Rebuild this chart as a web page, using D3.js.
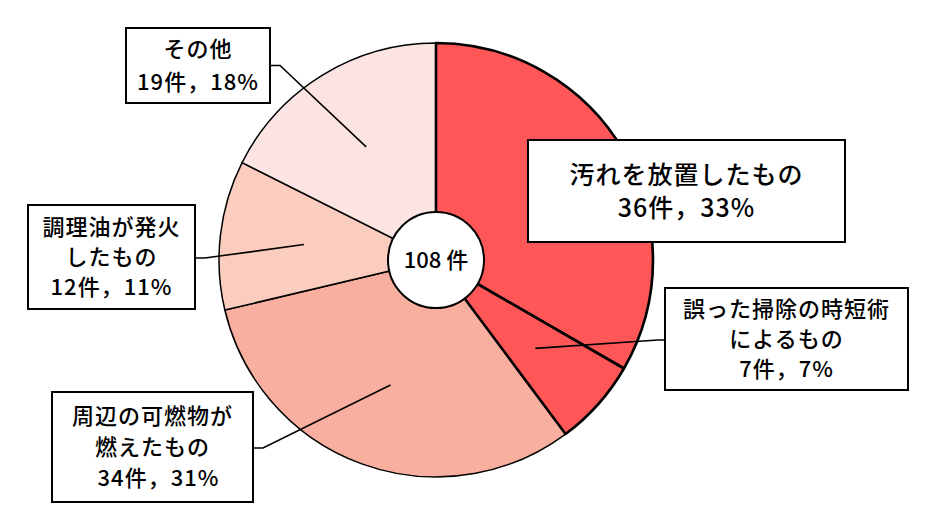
<!DOCTYPE html>
<html><head><meta charset="utf-8">
<script src="https://cdn.jsdelivr.net/npm/d3@7"></script>
<style>
html,body{margin:0;padding:0;background:#fff;}
svg{display:block;}
text{font-family:"Noto Sans CJK JP","Noto Sans CJK SC",sans-serif;fill:#000;font-weight:500;}
</style></head>
<body>
<svg id="chart" width="934" height="523"></svg>
<script>
// data
const categories = ["汚れを放置したもの", "誤った掃除の時短術によるもの", "周辺の可燃物が燃えたもの", "調理油が発火したもの", "その他"];
const counts = [36, 7, 34, 12, 19];
const percents = [33, 7, 31, 11, 18];
const labelLines = [
  ["汚れを放置したもの"],
  ["誤った掃除の時短術", "によるもの"],
  ["周辺の可燃物が", "燃えたもの"],
  ["調理油が発火", "したもの"],
  ["その他"]
];
const colors = ["#FF5757", "#FF5757", "#F9AFA0", "#FBCDBF", "#FCE4E2"];
const totalLabel = "108 件";

// layout
const W = 934, H = 523;
const cx = 436, cy = 260, R = 217, holeR = 48;
const boxes = [
  {x:528, y:140, w:317, h:102, fs:25, lh:33, leader:false},
  {x:665, y:288, w:243, h:102, fs:22, lh:30, leader:true, side:"left"},
  {x:52,  y:392, w:201, h:110, fs:22, lh:31, leader:true, side:"right", shiftLast:6},
  {x:28,  y:205, w:167, h:104, fs:22, lh:30, leader:true, side:"right"},
  {x:126, y:28,  w:144, h:75,  fs:22, lh:33, leader:true, side:"right"}
];

const svg = d3.select("#chart");
const g = svg.append("g").attr("transform", `translate(${cx},${cy})`);

const pie = d3.pie().sort(null).value(d => d)(counts);
const arc = d3.arc().innerRadius(0).outerRadius(R);
const leaderArc = d3.arc().innerRadius(133).outerRadius(133);

// draw light slices first, red slices last so thick borders are on top
const order = [2, 3, 4, 0, 1];
order.forEach(i => {
  g.append("path")
    .attr("d", arc(pie[i]))
    .attr("fill", colors[i])
    .attr("stroke", "#000")
    .attr("stroke-width", i < 2 ? 2.6 : 1.5)
    .attr("stroke-linejoin", "round");
});

// leader lines
pie.forEach((p, i) => {
  const b = boxes[i];
  if (!b.leader) return;
  const [lx, ly] = leaderArc.centroid(p);
  const ex = cx + lx, ey = cy + ly;
  let sx, sy, kx;
  sy = b.y + b.h / 2 + (i === 4 ? 0 : 1);
  if (b.side === "left") { sx = b.x; kx = sx - 7; }
  else { sx = b.x + b.w; kx = sx + 10; }
  svg.append("path")
    .attr("d", d3.line()([[sx, sy], [kx, sy], [ex, ey]]))
    .attr("fill", "none").attr("stroke", "#000").attr("stroke-width", 1.6);
});

// center circle
g.append("circle").attr("r", holeR).attr("fill", "#fff").attr("stroke", "#000").attr("stroke-width", 2);
g.append("text").attr("text-anchor", "middle").attr("dy", "0.36em")
  .style("font-size", "22px").text(totalLabel);

// label boxes
boxes.forEach((b, i) => {
  svg.append("rect").attr("x", b.x).attr("y", b.y).attr("width", b.w).attr("height", b.h)
    .attr("fill", "#fff").attr("stroke", "#000").attr("stroke-width", 2);
  const lines = labelLines[i].concat([`${counts[i]}件，${percents[i]}%`]);
  const n = lines.length;
  const midY = b.y + b.h / 2;
  lines.forEach((t, k) => {
    const yy = midY + (k - (n - 1) / 2) * b.lh;
    svg.append("text")
      .attr("x", b.x + b.w / 2 + (k === n - 1 && b.shiftLast ? b.shiftLast : 0))
      .attr("y", yy).attr("dy", "0.36em")
      .attr("text-anchor", "middle")
      .style("font-size", b.fs + "px")
      .style("letter-spacing", "1px")
      .text(t);
  });
});
</script>
</body></html>
